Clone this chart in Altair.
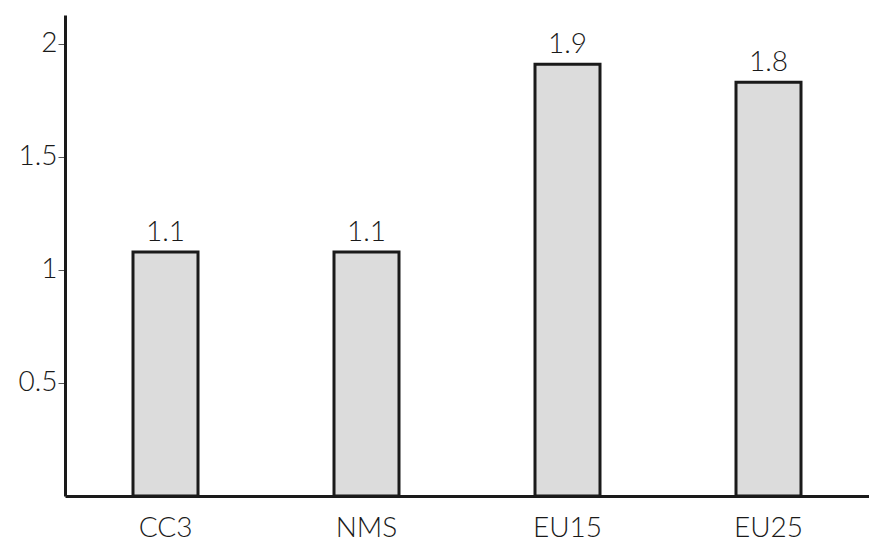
import altair as alt
import pandas as pd

categories = ["CC3", "NMS", "EU15", "EU25"]
values = [1.08, 1.08, 1.91, 1.83]
y_ticks = [0.5, 1, 1.5, 2]

df = pd.DataFrame({"cat": categories, "val": values})

FONT = "Lato"
FS = 28
FW = 300

base = alt.Chart(df).encode(
    x=alt.X("cat:N", sort=categories, title=None,
            scale=alt.Scale(paddingInner=0, paddingOuter=0),
            axis=alt.Axis(labelAngle=0, ticks=False, domainWidth=3, domainColor="#1a1a1a",
                          labelFont=FONT, labelFontSize=FS, labelFontWeight=FW,
                          labelColor="#1a1a1a", labelPadding=18, grid=False)),
    y=alt.Y("val:Q", title=None,
            scale=alt.Scale(domain=[0, 2.128], nice=False, zero=True),
            axis=alt.Axis(values=y_ticks, domainWidth=3, domainColor="#1a1a1a",
                          tickColor="#555555", tickWidth=1, tickSize=7,
                          labelFont=FONT, labelFontSize=FS, labelFontWeight=FW,
                          labelColor="#1a1a1a", labelPadding=1, grid=False,
                          format="~g")),
)

bars = base.mark_bar(size=65, color="#dcdcdc", stroke="#1a1a1a", strokeWidth=3)
labels = base.mark_text(baseline="bottom", dy=-5, font=FONT, fontSize=FS, fontWeight=FW,
                        color="#1a1a1a").encode(
    text=alt.Text("val:Q", format=".1f"))

chart = (bars + labels).properties(
    width=804, height=481,
    autosize=alt.AutoSizeParams(type="none"),
    padding={"left": 57, "top": 7, "right": 0, "bottom": 48},
).configure_view(stroke=None)

chart.save("out.html", embed_options={"renderer": "svg", "actions": False})
